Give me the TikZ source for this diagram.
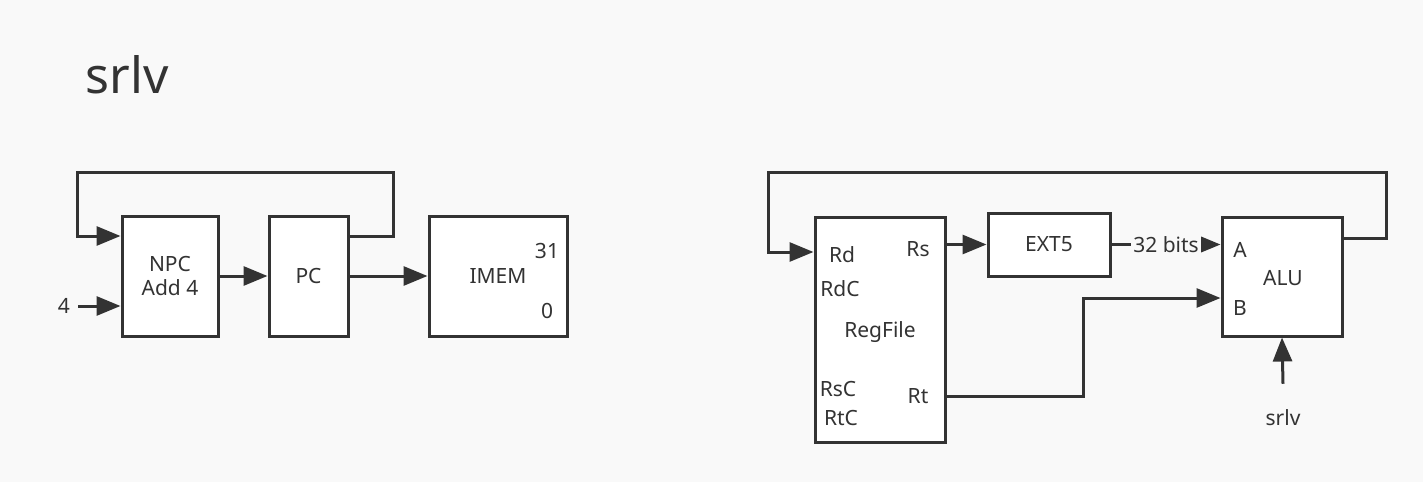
\documentclass[tikz,border=0pt]{standalone}
\usepackage{fontspec}
\setmainfont{Noto Sans}
\usetikzlibrary{arrows.meta}
\definecolor{ink}{HTML}{333333}
\definecolor{paper}{HTML}{F9F9F9}

\begin{document}
\begin{tikzpicture}[x=0.5pt, y=-0.5pt, >={Triangle[length=12pt, width=9.5pt]}, line width=1.5pt, draw=ink, text=ink, font=\fontsize{10.5}{12}\selectfont]

\fill[paper] (0,0) rectangle (1423,482);
\useasboundingbox (0,0) rectangle (1423,482);

\node (title) at (127,75) [font=\fontsize{25}{30}\selectfont] {srlv};

% instruction fetch
\node (npc) at (170,276)    [draw, fill=white, minimum width=48pt, minimum height=60pt, align=center] {NPC\\Add 4};
\node (pc) at (308.5,276)   [draw, fill=white, minimum width=39.5pt, minimum height=60pt] {PC};
\node (imem) at (498,276)   [draw, fill=white, minimum width=69pt, minimum height=60pt] {IMEM};
\node (imemhi) at (547,251) {31};
\node (imemlo) at (547,311) {0};
\node (four) at (64,306) {4};

\path[->] (npc) edge (pc);
\path[->] (pc) edge (imem);
\path[->] (four.east) edge (npc.west |- four);
\draw[->] ([yshift=20pt]pc.east) -| (393,172) -| (77,236) -- ([yshift=20pt]npc.west);

% datapath
\node (regfile) at (880,329.5) [draw, fill=white, minimum width=65pt, minimum height=112.5pt] {};
\node (ext) at (1049,244.5)    [draw, fill=white, minimum width=61pt, minimum height=31.5pt] {EXT5};
\node (alu) at (1282,276.5)    [draw, fill=white, minimum width=60pt, minimum height=59.5pt] {};

\node (rd) at (842,255)       {Rd};
\node (rdc) at (840,289)      {RdC};
\node (rfname) at (880,332)   {RegFile};
\node (rsc) at (838,389)      {RsC};
\node (rtc) at (841,418)      {RtC};
\node (rs) at (918,249)       {Rs};
\node (rt) at (918,396)       {Rt};

\node (aluname) at (1283,278) {ALU};
\node (alua) at (1240,250)    {A};
\node (alub) at (1240,308)    {B};
\node (op) at (1283,418)      {srlv};

\path[->] (regfile.east |- ext) edge (ext);
\path[->] (ext) edge node [fill=paper, inner sep=1pt] {32 bits} (alu.west |- ext);
\draw[->] (regfile.east |- rt) -| (1083,298) -- ([yshift=-10.75pt]alu.west);
\path[->] ([yshift=9pt]op.north) edge (alu.south);
\draw[->] ([yshift=19.25pt]alu.east) -| (1386,172) -| (768,252) -- ([yshift=38.75pt]regfile.west);

\end{tikzpicture}
\end{document}
